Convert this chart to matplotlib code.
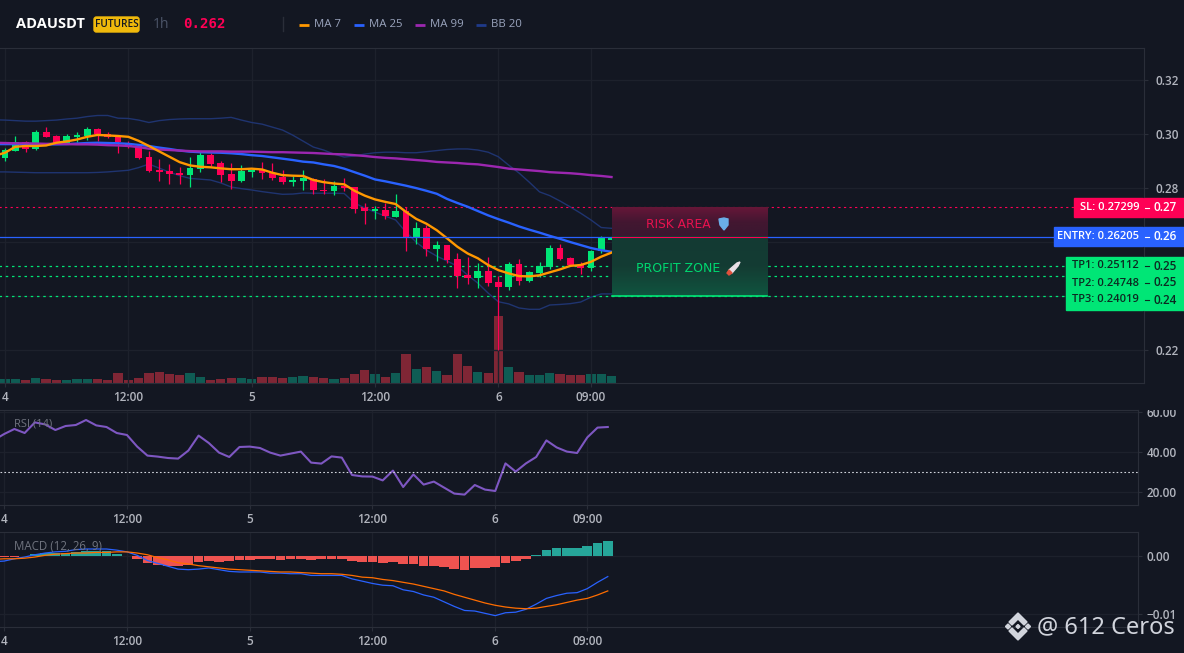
import numpy as np
import matplotlib
matplotlib.use("Agg")
import matplotlib.pyplot as plt
from matplotlib.colors import LinearSegmentedColormap
from matplotlib.patches import FancyBboxPatch, Polygon, Rectangle
from matplotlib.transforms import Bbox

plt.rcParams['font.family'] = ['Open Sans', 'DejaVu Sans']

# Harga per jam, indeks 0 = tanggal 4 jam 00:00
opens = [.2910, .2937, .2969, .2944, .3007, .2993, .2966, .2988, .2993, .3019,
         .2999, .2989, .2966, .2957, .2915, .2867, .2863, .2856, .2848, .2870,
         .2922, .2893, .2852, .2826, .2860, .2867, .2856, .2841, .2822, .2826,
         .2833, .2793, .2789, .2807, .2804, .2726, .2716, .2719, .2693, .2715,
         .2619, .2652, .2574, .2589, .2537, .2478, .2467, .2493, .2452, .2433,
         .2519, .2456, .2485, .2507, .2578, .2541, .2515, .2504, .2567, .2607]
highs = [.2948, .2993, .2974, .3015, .3025, .2996, .3000, .3007, .3026, .3022,
         .3007, .2993, .2974, .2959, .2937, .2907, .2889, .2878, .2915, .2933,
         .2930, .2900, .2893, .2885, .2870, .2896, .2893, .2867, .2845, .2867,
         .2837, .2833, .2826, .2837, .2804, .2745, .2733, .2745, .2778, .2730,
         .2674, .2663, .2604, .2589, .2559, .2544, .2522, .2544, .2474, .2526,
         .2537, .2493, .2526, .2589, .2593, .2544, .2526, .2570, .2622, .2622]
lows = [.2900, .2937, .2934, .2941, .2989, .2966, .2966, .2970, .2978, .2974,
        .2985, .2930, .2948, .2907, .2859, .2826, .2815, .2815, .2804, .2859,
        .2882, .2822, .2796, .2822, .2841, .2833, .2830, .2815, .2807, .2793,
        .2778, .2778, .2774, .2789, .2707, .2667, .2685, .2685, .2693, .2567,
        .2593, .2548, .2530, .2522, .2430, .2444, .2430, .2437, .2200, .2422,
        .2441, .2452, .2470, .2500, .2533, .2511, .2481, .2493, .2559, .2607]
closes = [.2941, .2969, .2944, .3007, .2989, .2966, .2993, .2996, .3019, .3000,
          .2990, .2970, .2957, .2911, .2863, .2859, .2852, .2848, .2874, .2922,
          .2889, .2848, .2826, .2863, .2863, .2856, .2837, .2822, .2830, .2837,
          .2793, .2788, .2807, .2800, .2722, .2715, .2719, .2696, .2715, .2619,
          .2652, .2574, .2589, .2533, .2474, .2467, .2493, .2448, .2433, .2519,
          .2456, .2489, .2511, .2578, .2537, .2515, .2504, .2567, .2615, .2615]
volumes = [4.3, 4.3, 3.3, 5.3, 4.3, 3.3, 3.3, 4.3, 4.3, 4.3, 3.3, 10.3, 3.3, 5.3, 10.3,
           11.3, 9.3, 8.3, 10.3, 6.3, 3.3, 4.3, 5.3, 5.3, 4.3, 6.3, 6.3, 5.3, 6.3, 7.3,
           6.3, 5.3, 4.3, 5.3, 9.3, 13.3, 9.3, 6.3, 10.3, 29.3, 14.3, 16.3, 12.3, 8.3, 29.3,
           17.3, 11.3, 10.3, 67.0, 16.3, 11.3, 8.3, 8.3, 10.3, 9.3, 8.3, 8.3, 9.3, 9.3, 7.3]
volume_up = [1, 1, 0, 1, 0, 0, 1, 1, 1, 0, 0, 0, 0, 0, 0, 0, 0, 0, 1, 1, 0, 0, 0, 1, 1, 0, 0, 0, 1, 1,
             0, 0, 1, 0, 0, 0, 1, 0, 1, 0, 1, 0, 1, 0, 0, 0, 1, 0, 0, 1, 0, 1, 1, 1, 0, 0, 0, 1, 1, 1]

# Indikator: nilai pertama adalah jam sebelum indeks 0 (di luar tepi kiri)
ma7 = [.2920, .2931, .2953, .2956, .2956, .2958, .2968, .2973, .2980, .2990, .2997,
       .2995, .2993, .2990, .2975, .2956, .2936, .2916, .2896, .2884, .2879,
       .2877, .2873, .2870, .2870, .2872, .2869, .2857, .2848, .2846, .2845,
       .2830, .2822, .2817, .2814, .2790, .2772, .2758, .2749, .2741, .2712,
       .2686, .2668, .2644, .2614, .2583, .2558, .2540, .2515, .2496, .2484,
       .2474, .2473, .2477, .2488, .2499, .2512, .2515, .2527, .2546, .2561]
ma25 = [.2963, .2963, .2963, .2963, .2963, .2962, .2962, .2963, .2965, .2967, .2968,
        .2967, .2966, .2964, .2960, .2956, .2950, .2945, .2939, .2935, .2933,
        .2932, .2931, .2929, .2926, .2922, .2919, .2914, .2909, .2904, .2898,
        .2895, .2888, .2882, .2872, .2859, .2846, .2832, .2825, .2817, .2809,
        .2800, .2790, .2779, .2760, .2745, .2731, .2715, .2699, .2685, .2672,
        .2658, .2646, .2635, .2623, .2612, .2600, .2589, .2578, .2570, .2564]
ma99 = [.2968, .2967, .2966, .2966, .2965, .2964, .2964, .2963, .2962, .2962, .2961,
        .2959, .2958, .2956, .2952, .2946, .2943, .2941, .2939, .2937, .2936,
        .2936, .2936, .2935, .2935, .2935, .2934, .2933, .2933, .2932, .2931,
        .2930, .2928, .2926, .2925, .2922, .2919, .2915, .2912, .2910, .2907,
        .2904, .2901, .2897, .2895, .2893, .2890, .2888, .2883, .2878, .2872,
        .2869, .2866, .2863, .2859, .2857, .2855, .2852, .2848, .2845, .2841]
bb_upper = [.3053, .3052, .3050, .3048, .3048, .3050, .3052, .3056, .3059, .3065, .3069,
            .3069, .3059, .3058, .3052, .3043, .3050, .3054, .3056, .3057, .3057,
            .3057, .3059, .3062, .3052, .3043, .3037, .3026, .3015, .2996, .2974,
            .2952, .2941, .2926, .2915, .2919, .2926, .2931, .2933, .2933, .2931,
            .2931, .2935, .2939, .2943, .2945, .2945, .2941, .2933, .2916, .2885,
            .2856, .2822, .2786, .2772, .2752, .2730, .2707, .2682, .2654, .2651]
bb_lower = [.2860, .2860, .2859, .2858, .2857, .2857, .2857, .2857, .2857, .2857, .2858,
            .2860, .2863, .2866, .2876, .2889, .2874, .2859, .2846, .2836, .2833,
            .2830, .2819, .2804, .2798, .2793, .2787, .2782, .2777, .2778, .2782,
            .2781, .2781, .2781, .2780, .2745, .2726, .2711, .2696, .2682, .2637,
            .2600, .2570, .2548, .2530, .2511, .2478, .2448, .2411, .2379, .2371,
            .2356, .2351, .2351, .2367, .2369, .2372, .2378, .2396, .2408, .2408]

rsi = [46, 49, 51.5, 49.5, 54.8, 53.8, 51, 53, 53.5, 56, 53.3, 52.5, 49.5, 48.5, 42.7, 38.2,
       37.7, 37, 36.7, 40.7, 48.2, 44.5, 39.7, 37.5, 42.5, 42.7, 42, 39.7, 38.2, 39.2, 40.2,
       34.7, 34.2, 37.8, 37.2, 28.5, 27.8, 27.7, 25.8, 30.7, 22.5, 28.8, 23.7, 25.2, 22.2, 19.2,
       18.7, 23.5, 21.2, 20.5, 34.3, 30.2, 34.3, 37.5, 45.8, 42.3, 40.2, 39.5, 47.3, 52.2, 52.5]

macd_hist = [-.0001, -.0001, .0001, .0005, .0006, .0006, .0006, .0008, .0009, .0009,
             .0009, .0004, .0001, -.0004, -.0011, -.0015, -.0016, -.0017, -.0015, -.0010,
             -.0008, -.0009, -.0008, -.0007, -.0006, -.0005, -.0004, -.0006, -.0004, -.0005,
             -.0006, -.0004, -.0004, -.0004, -.0008, -.0009, -.0009, -.0011, -.0010, -.0013,
             -.0013, -.0016, -.0016, -.0018, -.0022, -.0023, -.0020, -.0020, -.0018, -.0011,
             -.0008, -.0004, .0003, .0012, .0015, .0015, .0015, .0019, .0024, .0027]
macd_line = [-.0009, -.0008, -.0004, -.0001, .0003, .0006, .0008, .0009, .0012, .0013, .0013,
             .0013, .0011, .0008, .0002, -.0007, -.0012, -.0017, -.0022, -.0023, -.0022,
             -.0020, -.0023, -.0026, -.0027, -.0027, -.0027, -.0029, -.0029, -.0030, -.0030,
             -.0033, -.0033, -.0033, -.0033, -.0039, -.0043, -.0047, -.0050, -.0051, -.0058,
             -.0061, -.0067, -.0071, -.0079, -.0087, -.0094, -.0095, -.0099, -.0103, -.0098,
             -.0097, -.0092, -.0083, -.0073, -.0068, -.0064, -.0063, -.0056, -.0045, -.0035]
macd_signal = [-.0005, -.0004, -.0004, -.0003, -.0001, .0002, .0004, .0005, .0006, .0006, .0007,
               .0007, .0008, .0008, .0006, .0003, -.0002, -.0006, -.0011, -.0013, -.0016,
               -.0018, -.0020, -.0022, -.0023, -.0024, -.0025, -.0026, -.0027, -.0027, -.0028,
               -.0029, -.0030, -.0030, -.0031, -.0033, -.0036, -.0037, -.0040, -.0042, -.0045,
               -.0048, -.0052, -.0056, -.0060, -.0066, -.0071, -.0076, -.0081, -.0085, -.0088,
               -.0090, -.0091, -.0090, -.0087, -.0084, -.0080, -.0076, -.0073, -.0067, -.0060]

time_ticks = [0, 12, 24, 36, 48, 57]
time_labels = ["4", "12:00", "5", "12:00", "6", "09:00"]
sl_level = 0.27299
entry_level = 0.26205
tp_levels = [0.25112, 0.24748, 0.24019]

# Warna
BG = "#131722"
GRID = "#1d212c"
BORDER = "#2a2e39"
TXT = "#b2b5be"
UP = "#00e676"
DOWN = "#ff0055"
BLUE = "#2962ff"

W, H = 1184, 653
fig = plt.figure(figsize=(W / 100, H / 100), dpi=100, facecolor=BG)


def pane(left, top, right, bottom):
    # Membuat axes dari koordinat piksel
    a = fig.add_axes([left / W, 1 - bottom / H, (right - left) / W, (bottom - top) / H])
    a.set_facecolor(BG)
    a.spines["left"].set_visible(False)
    for s in ["right", "bottom", "top"]:
        a.spines[s].set_color(BORDER)
    a.yaxis.tick_right()
    a.tick_params(axis="both", colors=BORDER, labelcolor=TXT, labelsize=8.5, length=3, width=0.8, pad=3)
    a.grid(True, color=GRID, lw=1)
    a.set_axisbelow(True)
    a.set_xticks(time_ticks)
    a.set_xticklabels(time_labels)
    for lab in a.get_xticklabels() + a.get_yticklabels():
        lab.set_fontweight("semibold")
    return a


hours = np.arange(len(opens))
line_hours = np.arange(-1, len(opens))
o, c = np.array(opens), np.array(closes)
is_up = c >= o

# Panel volume di belakang panel harga
vol_ax = fig.add_axes([0, 1 - 383 / H, 1144 / W, 335 / H])
vol_ax.set_facecolor(BG)
vol_ax.axis("off")
vol_ax.bar(hours, volumes, width=0.9,
           color=["#0f5c54" if u else "#7f2635" for u in volume_up])
vol_ax.set_xlim(-0.486, 110.8)
vol_ax.set_ylim(0, 335)

ax = pane(0, 48, 1144, 383)
ax.patch.set_visible(False)
ax.set_xlim(-0.486, 110.8)
ax.set_ylim(0.2078, 0.3319)
ax.set_yticks([0.22, 0.24, 0.26, 0.28, 0.30, 0.32])
ax.set_yticklabels(["0.22", "", "", "0.28", "0.30", "0.32"], fontweight="semibold")
ax.tick_params(axis="y", pad=5)

ax.plot(line_hours, bb_upper, color="#1f3470", lw=1)
ax.plot(line_hours, bb_lower, color="#1f3470", lw=1)

colors = [UP if u else DOWN for u in is_up]
ax.vlines(hours, lows, highs, colors=colors, lw=0.9, zorder=3)
ax.bar(hours, np.maximum(np.abs(c - o), 0.0006), bottom=np.minimum(o, c), width=0.66, color=colors, zorder=3)

ax.plot(line_hours, ma25, color=BLUE, lw=1.7, zorder=4)
ax.plot(line_hours, ma99, color="#9c27b0", lw=1.7, zorder=5)
ax.plot(line_hours, ma7, color="#ff9800", lw=1.7, zorder=6)

# Garis level
ax.plot([-1, 104], [sl_level] * 2, color=DOWN, lw=0.8, dashes=(2, 3), zorder=2)
ax.plot([-1, 103], [entry_level] * 2, color=BLUE, lw=0.9, zorder=7)
for lv in tp_levels:
    ax.plot([-1, 103.5], [lv] * 2, color=UP, lw=0.9, dashes=(2, 3), zorder=2)

# Zona risiko dan profit
zone_x = (59, 74.1)
risk_cm = LinearSegmentedColormap.from_list("risk", ["#3a1730", "#431731", "#661638"])
profit_cm = LinearSegmentedColormap.from_list("profit", ["#10543f", "#143c33", "#133a34"])
grad = np.linspace(0, 1, 64).reshape(-1, 1)
ax.imshow(grad, extent=(zone_x[0], zone_x[1], entry_level, sl_level), origin="lower",
          aspect="auto", cmap=risk_cm, zorder=8)
ax.imshow(grad, extent=(zone_x[0], zone_x[1], tp_levels[2], entry_level), origin="lower",
          aspect="auto", cmap=profit_cm, zorder=8)
ax.plot(zone_x, [tp_levels[2]] * 2, color=UP, lw=1.2, zorder=9)
ax.plot(zone_x, [entry_level] * 2, color=DOWN, lw=0.8, zorder=9)
ax.set_xlim(-0.486, 110.8)
ax.set_ylim(0.2078, 0.3319)

# Panel RSI
rsi_ax = pane(0, 410, 1138, 505)
rsi_ax.plot(line_hours, rsi, color="#7e57c2", lw=1.5)
rsi_ax.axhline(30, color="#d1d4dc", lw=0.8, dashes=(1.5, 2))
rsi_ax.set_xlim(-0.41, 110.83)
rsi_ax.set_ylim(13.5, 61)
rsi_ax.set_yticks([20, 40, 60])
rsi_ax.set_yticklabels(["20.00", "40.00", "60.00"], fontweight="semibold")
# Label 60.00 terpotong oleh tepi atas panel, seperti di layar aslinya
rsi_ax.get_yticklabels()[2].set_clip_box(Bbox.from_extents(1138, 0, W, H - 410))
rsi_ax.get_yticklabels()[2].set_clip_on(True)

# Panel MACD
macd_ax = pane(0, 532, 1138, 627)
hist = np.array(macd_hist)
macd_ax.bar(hours, hist, width=0.95, color=["#26a69a" if v >= 0 else "#ef5350" for v in hist])
macd_ax.plot(line_hours, macd_line, color=BLUE, lw=0.9)
macd_ax.plot(line_hours, macd_signal, color="#ff6d00", lw=0.9)
macd_ax.set_xlim(-0.41, 110.83)
macd_ax.set_ylim(-0.01228, 0.00426)
macd_ax.set_yticks([0, -0.01])
macd_ax.set_yticklabels(["0.00", "\u22120.01"], fontweight="semibold")

# Lapisan atas dalam koordinat piksel untuk header dan label
top = fig.add_axes([0, 0, 1, 1], zorder=20)
top.patch.set_visible(False)
top.axis("off")
top.set_xlim(0, W)
top.set_ylim(H, 0)

top.text(16, 24.5, "ADAUSDT", color="white", fontsize=10.5, fontweight="bold", va="center")
top.add_patch(FancyBboxPatch((96, 19), 41, 11, boxstyle="round,pad=2,rounding_size=2.5", color="#f0b90b", zorder=1))
top.text(116.5, 24.5, "FUTURES", color="#131722", fontsize=7.2, fontweight="semibold", ha="center", va="center", zorder=2)
top.text(153, 24.5, "1h", color="#4b5468", fontsize=10, va="center")
top.text(183, 24.5, "0.262", color=DOWN, fontsize=10.2, fontweight="bold", family="DejaVu Sans Mono", va="center")
top.plot([283, 283], [17, 31], color=BORDER, lw=1)

legend_names = ["MA 7", "MA 25", "MA 99", "BB 20"]
legend_colors = ["#ff9800", BLUE, "#9c27b0", "#1f3a8a"]
legend_x = [299, 354, 415, 476]
for name, col, lx in zip(legend_names, legend_colors, legend_x):
    top.plot([lx, lx + 10], [24.5, 24.5], color=col, lw=2, solid_capstyle="butt")
    top.text(lx + 15, 24.5, name, color="#9aa4bd", fontsize=8.2, va="center")

top.text(14, 424, "RSI (14)", color="#70747f", fontsize=8, va="center")
top.text(14, 546, "MACD (12, 26, 9)", color="#70747f", fontsize=8.3, va="center")

top.text(646, 224, "RISK AREA", color="#e8124f", fontsize=8.8, family="DejaVu Sans", va="center")
top.add_patch(Polygon([[719, 219], [724, 218], [728, 219], [728, 225], [724, 230], [720, 225]], color="#6aaee8"))
top.text(636, 268, "PROFIT ZONE", color="#00d870", fontsize=9, family="DejaVu Sans", va="center")
top.add_patch(Polygon([[729, 270], [737, 263], [740, 262], [738, 266], [732, 273]], color="#e8dfe6"))
top.add_patch(Polygon([[727, 273], [729, 270], [732, 273], [729, 275]], color="#e0503c"))

# Label harga di sumbu kanan
box_font = dict(fontsize=8, fontweight="semibold", va="center")
val_font = dict(fontsize=8.5, fontweight="semibold", va="center")
top.add_patch(Rectangle((1074, 198), 68.5, 18.5, color=DOWN))
top.add_patch(Rectangle((1144, 198), 40, 18.5, color=DOWN))
top.text(1139, 207.5, "SL: 0.27299", color="white", ha="right", **box_font)
top.plot([1145, 1149], [207.5, 207.5], color="white", lw=0.8)
top.text(1153, 207.5, "0.27", color="white", **val_font)
top.add_patch(Rectangle((1054, 227), 88.5, 18.5, color=BLUE))
top.add_patch(Rectangle((1144, 227), 40, 18.5, color=BLUE))
top.text(1139, 236.5, "ENTRY: 0.26205", color="white", ha="right", **box_font)
top.plot([1145, 1149], [236.5, 236.5], color="white", lw=0.8)
top.text(1153, 236.5, "0.26", color="white", **val_font)
top.add_patch(Rectangle((1066, 257), 76.5, 53, color=UP))
top.add_patch(Rectangle((1144, 257), 40, 53, color=UP))
for name, lv, ty, short in zip(["TP1", "TP2", "TP3"], tp_levels, [266, 283, 300], ["0.25", "0.25", "0.24"]):
    top.text(1139, ty, f"{name}: {lv:.5f}", color="#0c2a22", ha="right", **box_font)
    top.plot([1145, 1149], [ty, ty], color="#0c2a22", lw=0.8)
    top.text(1153, ty, short, color="#0c2a22", **val_font)

# Watermark
wm = "#d1d4dc"
top.text(1037, 627, "@ 612 Ceros", color=wm, fontsize=17, va="center", family="Noto Sans")
logo_parts = [
    [[1018, 613], [1027, 622], [1024, 625], [1018, 619], [1012, 625], [1009, 622]],
    [[1018, 640], [1027, 631], [1024, 628], [1018, 634], [1012, 628], [1009, 631]],
    [[1018, 624.5], [1020, 626.5], [1018, 628.5], [1016, 626.5]],
    [[1008, 624], [1010.5, 626.5], [1008, 629], [1005.5, 626.5]],
    [[1028, 624], [1030.5, 626.5], [1028, 629], [1025.5, 626.5]],
]
for part in logo_parts:
    top.add_patch(Polygon(part, color=wm))

fig.savefig("out.png", dpi=100, facecolor=BG)
